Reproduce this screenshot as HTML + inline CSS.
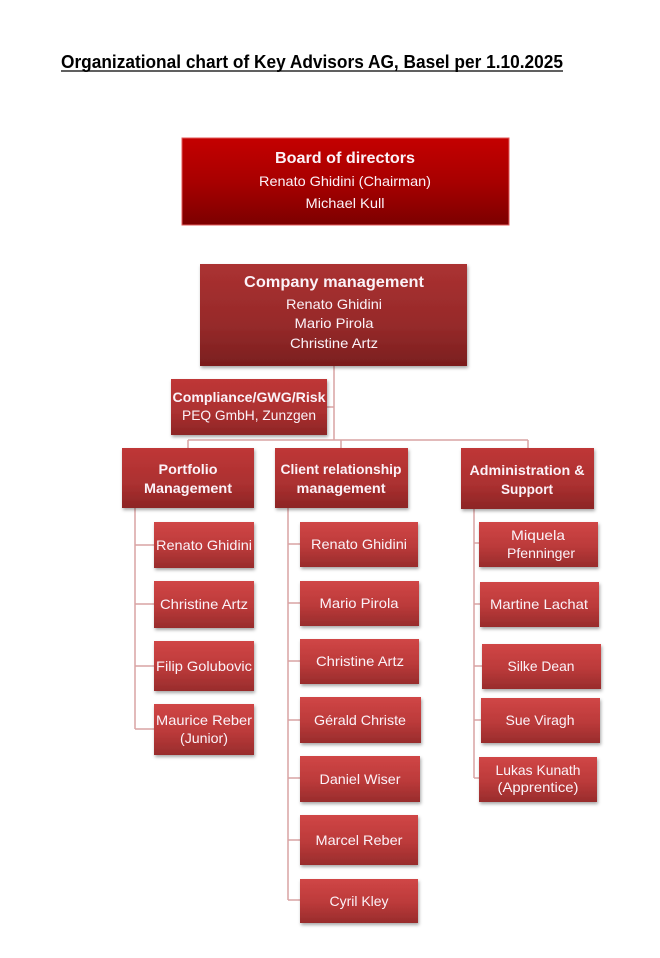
<!DOCTYPE html>
<html><head><meta charset="utf-8"><style>
html,body{margin:0;padding:0;background:#fff;}
svg{display:block;}
text{font-family:"Liberation Sans",Arial,sans-serif;fill:#fbf2f8;}
.b{font-weight:bold;}
</style></head><body>
<svg width="660" height="958" viewBox="0 0 660 958" xmlns="http://www.w3.org/2000/svg">
<defs>
<linearGradient id="gBoard" x1="0" y1="0" x2="0" y2="1"><stop offset="0" stop-color="#c40000"/><stop offset="0.5" stop-color="#a80000"/><stop offset="1" stop-color="#7c0000"/></linearGradient>
<linearGradient id="gCM" x1="0" y1="0" x2="0" y2="1"><stop offset="0" stop-color="#ab3131"/><stop offset="0.6" stop-color="#962a2a"/><stop offset="1" stop-color="#7a1e1e"/></linearGradient>
<linearGradient id="gL2" x1="0" y1="0" x2="0" y2="1"><stop offset="0" stop-color="#bf3737"/><stop offset="0.6" stop-color="#ab3030"/><stop offset="1" stop-color="#8c2525"/></linearGradient>
<linearGradient id="gC" x1="0" y1="0" x2="0" y2="1"><stop offset="0" stop-color="#d04646"/><stop offset="0.55" stop-color="#bb3a3a"/><stop offset="1" stop-color="#982c2c"/></linearGradient>
<filter id="sh" x="-10%" y="-10%" width="125%" height="135%"><feDropShadow dx="1" dy="2" stdDeviation="1.5" flood-color="#000" flood-opacity="0.35"/></filter>
</defs>

<!-- Title -->
<text x="61" y="68" class="b" font-size="18" textLength="502" lengthAdjust="spacingAndGlyphs" style="fill:#000">Organizational chart of Key Advisors AG, Basel per 1.10.2025</text>
<line x1="61" y1="71" x2="563" y2="71" stroke="#000" stroke-width="1.3"/>

<!-- Connectors -->
<g stroke="#d9a3a3" stroke-width="1.5" fill="none">
<line x1="334" y1="366" x2="334" y2="440"/>
<line x1="327" y1="407" x2="334" y2="407"/>
<line x1="188" y1="440" x2="528" y2="440"/>
<line x1="188" y1="440" x2="188" y2="448"/>
<line x1="341" y1="440" x2="341" y2="448"/>
<line x1="528" y1="440" x2="528" y2="448"/>
<!-- left -->
<line x1="135" y1="508" x2="135" y2="729"/>
<line x1="135" y1="545" x2="154" y2="545"/>
<line x1="135" y1="604" x2="154" y2="604"/>
<line x1="135" y1="666" x2="154" y2="666"/>
<line x1="135" y1="729" x2="154" y2="729"/>
<!-- middle -->
<line x1="288" y1="508" x2="288" y2="900"/>
<line x1="288" y1="544" x2="300" y2="544"/>
<line x1="288" y1="603" x2="300" y2="603"/>
<line x1="288" y1="661" x2="300" y2="661"/>
<line x1="288" y1="720" x2="300" y2="720"/>
<line x1="288" y1="778" x2="300" y2="778"/>
<line x1="288" y1="840" x2="300" y2="840"/>
<line x1="288" y1="900" x2="300" y2="900"/>
<!-- right -->
<line x1="474" y1="509" x2="474" y2="778"/>
<line x1="474" y1="543" x2="479" y2="543"/>
<line x1="474" y1="604" x2="480" y2="604"/>
<line x1="474" y1="666" x2="482" y2="666"/>
<line x1="474" y1="720" x2="481" y2="720"/>
<line x1="474" y1="778" x2="479" y2="778"/>
</g>

<!-- Board -->
<rect x="182" y="138" width="327" height="87" fill="url(#gBoard)" stroke="#e25a5a" stroke-width="1"/>
<text x="345" y="163" class="b" font-size="16" text-anchor="middle" textLength="140" lengthAdjust="spacingAndGlyphs">Board of directors</text>
<text x="345" y="186" font-size="14" text-anchor="middle" textLength="172" lengthAdjust="spacingAndGlyphs">Renato Ghidini (Chairman)</text>
<text x="345" y="208" font-size="14" text-anchor="middle" textLength="79" lengthAdjust="spacingAndGlyphs">Michael Kull</text>

<!-- Company management -->
<rect x="200" y="264" width="267" height="102" fill="url(#gCM)" filter="url(#sh)"/>
<text x="334" y="287" class="b" font-size="16" text-anchor="middle" textLength="180" lengthAdjust="spacingAndGlyphs">Company management</text>
<text x="334" y="309" font-size="14" text-anchor="middle" textLength="96" lengthAdjust="spacingAndGlyphs">Renato Ghidini</text>
<text x="334" y="328" font-size="14" text-anchor="middle" textLength="79" lengthAdjust="spacingAndGlyphs">Mario Pirola</text>
<text x="334" y="348" font-size="14" text-anchor="middle" textLength="88" lengthAdjust="spacingAndGlyphs">Christine Artz</text>

<!-- Compliance -->
<rect x="171" y="379" width="156" height="56" fill="url(#gL2)" filter="url(#sh)"/>
<text x="249" y="402" class="b" font-size="14" text-anchor="middle" textLength="153" lengthAdjust="spacingAndGlyphs">Compliance/GWG/Risk</text>
<text x="249" y="420" font-size="14" text-anchor="middle" textLength="134" lengthAdjust="spacingAndGlyphs">PEQ GmbH, Zunzgen</text>

<!-- Level 2 -->
<rect x="122" y="448" width="132" height="60" fill="url(#gL2)" filter="url(#sh)"/>
<text x="188" y="474" class="b" font-size="14" text-anchor="middle" textLength="59" lengthAdjust="spacingAndGlyphs">Portfolio</text>
<text x="188" y="493" class="b" font-size="14" text-anchor="middle" textLength="88" lengthAdjust="spacingAndGlyphs">Management</text>

<rect x="275" y="448" width="133" height="60" fill="url(#gL2)" filter="url(#sh)"/>
<text x="341" y="474" class="b" font-size="14" text-anchor="middle" textLength="121" lengthAdjust="spacingAndGlyphs">Client relationship</text>
<text x="341" y="493" class="b" font-size="14" text-anchor="middle" textLength="89" lengthAdjust="spacingAndGlyphs">management</text>

<rect x="461" y="448" width="133" height="61" fill="url(#gL2)" filter="url(#sh)"/>
<text x="527" y="475" class="b" font-size="14" text-anchor="middle" textLength="115" lengthAdjust="spacingAndGlyphs">Administration &amp;</text>
<text x="527" y="494" class="b" font-size="14" text-anchor="middle" textLength="52" lengthAdjust="spacingAndGlyphs">Support</text>

<!-- Left children -->
<g font-size="14" text-anchor="middle">
<rect x="154" y="522" width="100" height="46" fill="url(#gC)" filter="url(#sh)"/>
<text x="204" y="550" textLength="96" lengthAdjust="spacingAndGlyphs">Renato Ghidini</text>
<rect x="154" y="581" width="100" height="47" fill="url(#gC)" filter="url(#sh)"/>
<text x="204" y="609" textLength="88" lengthAdjust="spacingAndGlyphs">Christine Artz</text>
<rect x="154" y="641" width="100" height="50" fill="url(#gC)" filter="url(#sh)"/>
<text x="204" y="671" textLength="96" lengthAdjust="spacingAndGlyphs">Filip Golubovic</text>
<rect x="154" y="704" width="100" height="51" fill="url(#gC)" filter="url(#sh)"/>
<text x="204" y="725" textLength="96" lengthAdjust="spacingAndGlyphs">Maurice Reber</text>
<text x="204" y="743" textLength="48" lengthAdjust="spacingAndGlyphs">(Junior)</text>

<!-- Middle children -->
<rect x="300" y="522" width="118" height="45" fill="url(#gC)" filter="url(#sh)"/>
<text x="359" y="549" textLength="96" lengthAdjust="spacingAndGlyphs">Renato Ghidini</text>
<rect x="300" y="581" width="119" height="45" fill="url(#gC)" filter="url(#sh)"/>
<text x="359" y="608" textLength="79" lengthAdjust="spacingAndGlyphs">Mario Pirola</text>
<rect x="300" y="639" width="119" height="45" fill="url(#gC)" filter="url(#sh)"/>
<text x="360" y="666" textLength="88" lengthAdjust="spacingAndGlyphs">Christine Artz</text>
<rect x="300" y="697" width="121" height="46" fill="url(#gC)" filter="url(#sh)"/>
<text x="360" y="725" textLength="92" lengthAdjust="spacingAndGlyphs">Gérald Christe</text>
<rect x="300" y="756" width="120" height="46" fill="url(#gC)" filter="url(#sh)"/>
<text x="360" y="784" textLength="81" lengthAdjust="spacingAndGlyphs">Daniel Wiser</text>
<rect x="300" y="815" width="118" height="50" fill="url(#gC)" filter="url(#sh)"/>
<text x="359" y="845" textLength="87" lengthAdjust="spacingAndGlyphs">Marcel Reber</text>
<rect x="300" y="879" width="118" height="44" fill="url(#gC)" filter="url(#sh)"/>
<text x="359" y="906" textLength="59" lengthAdjust="spacingAndGlyphs">Cyril Kley</text>

<!-- Right children -->
<rect x="479" y="522" width="119" height="45" fill="url(#gC)" filter="url(#sh)"/>
<text x="538" y="540" textLength="54" lengthAdjust="spacingAndGlyphs">Miquela</text>
<text x="541" y="558" textLength="68" lengthAdjust="spacingAndGlyphs">Pfenninger</text>
<rect x="480" y="582" width="119" height="45" fill="url(#gC)" filter="url(#sh)"/>
<text x="539" y="609" textLength="98" lengthAdjust="spacingAndGlyphs">Martine Lachat</text>
<rect x="482" y="644" width="119" height="45" fill="url(#gC)" filter="url(#sh)"/>
<text x="541" y="671" textLength="67" lengthAdjust="spacingAndGlyphs">Silke Dean</text>
<rect x="481" y="698" width="119" height="45" fill="url(#gC)" filter="url(#sh)"/>
<text x="540" y="725" textLength="69" lengthAdjust="spacingAndGlyphs">Sue Viragh</text>
<rect x="479" y="757" width="118" height="45" fill="url(#gC)" filter="url(#sh)"/>
<text x="538" y="775" textLength="85" lengthAdjust="spacingAndGlyphs">Lukas Kunath</text>
<text x="538" y="792" textLength="81" lengthAdjust="spacingAndGlyphs">(Apprentice)</text>
</g>
</svg>
</body></html>
